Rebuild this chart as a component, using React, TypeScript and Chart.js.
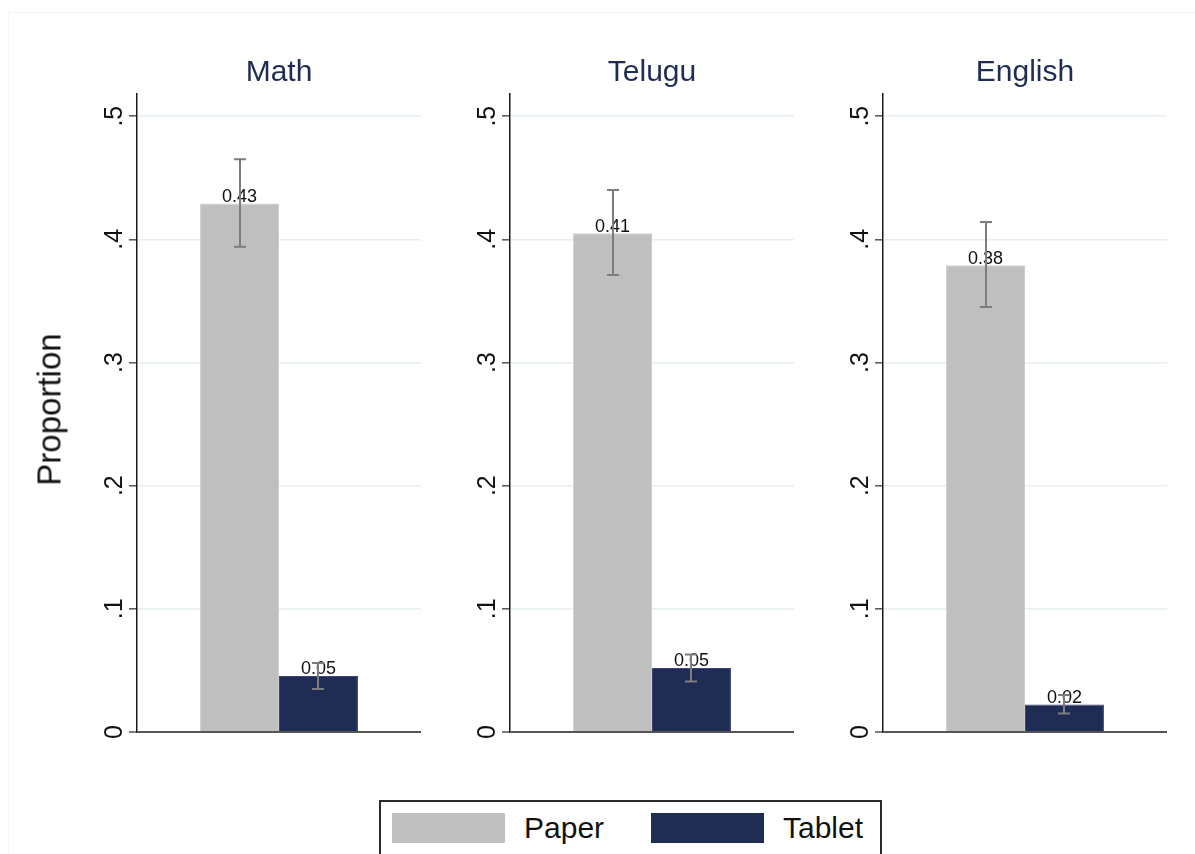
import React, { useEffect, useRef } from 'react';
import { Chart, registerables } from 'chart.js';

Chart.register(...registerables);

// Proportion by subject and test mode, with 95% confidence intervals
const subjects = ['Math', 'Telugu', 'English'];
const seriesNames = ['Paper', 'Tablet'];
const paperMeans = [0.429, 0.405, 0.379];
const tabletMeans = [0.0455, 0.052, 0.0224];
const paperLow = [0.394, 0.371, 0.345];
const paperHigh = [0.465, 0.44, 0.414];
const tabletLow = [0.035, 0.041, 0.015];
const tabletHigh = [0.056, 0.063, 0.03];
const yTicks = [0, 0.1, 0.2, 0.3, 0.4, 0.5];
const yTickLabels = ['0', '.1', '.2', '.3', '.4', '.5'];
const yAxisTitle = 'Proportion';

const PAPER_COLOR = '#bfbfbf';
const TABLET_COLOR = '#1f2c53';
const TITLE_COLOR = '#1f2c53';
const FONT = '"Liberation Sans", Arial, Helvetica, sans-serif';

// panel geometry (page pixels)
const PANEL_AXIS_X = [137, 510, 883];
const CANVAS_TOP = 40;
const CANVAS_W = 370;
const CANVAS_H = 720;
const AXIS_SPACE = 80;

function Panel({ index }: { index: number }) {
  const ref = useRef<HTMLCanvasElement | null>(null);

  useEffect(() => {
    const canvas = ref.current;
    if (!canvas) return;
    const lows = [paperLow[index], tabletLow[index]];
    const highs = [paperHigh[index], tabletHigh[index]];

    const decor = {
      id: 'panelDecor',
      afterDatasetsDraw(chart: any) {
        const ctx = chart.ctx as CanvasRenderingContext2D;
        const yScale = chart.scales.y;
        ctx.save();
        // value labels above bars
        ctx.font = `18px ${FONT}`;
        ctx.fillStyle = '#111111';
        ctx.textAlign = 'center';
        ctx.textBaseline = 'alphabetic';
        chart.data.datasets.forEach((ds: any, di: number) => {
          const meta = chart.getDatasetMeta(di);
          meta.data.forEach((bar: any, j: number) => {
            const v = ds.data[j] as number;
            ctx.fillText(v.toFixed(2), bar.x, bar.y - 1.5);
          });
        });
        // confidence interval whiskers
        ctx.strokeStyle = '#7d7d7d';
        ctx.lineWidth = 2;
        chart.data.datasets.forEach((_ds: any, di: number) => {
          const meta = chart.getDatasetMeta(di);
          meta.data.forEach((bar: any) => {
            const yLo = yScale.getPixelForValue(lows[di]);
            const yHi = yScale.getPixelForValue(highs[di]);
            const x = Math.round(bar.x);
            ctx.beginPath();
            ctx.moveTo(x, yLo);
            ctx.lineTo(x, yHi);
            ctx.moveTo(x - 6, yLo);
            ctx.lineTo(x + 6, yLo);
            ctx.moveTo(x - 6, yHi);
            ctx.lineTo(x + 6, yHi);
            ctx.stroke();
          });
        });
        ctx.restore();
      },
      afterDraw(chart: any) {
        const ctx = chart.ctx as CanvasRenderingContext2D;
        const { left, right } = chart.chartArea;
        const yScale = chart.scales.y;
        ctx.save();
        // rotated tick labels
        ctx.font = `25px ${FONT}`;
        ctx.fillStyle = '#111111';
        ctx.textAlign = 'center';
        ctx.textBaseline = 'alphabetic';
        yTicks.forEach((v, k) => {
          const y = yScale.getPixelForValue(v);
          ctx.save();
          ctx.translate(left - 15.5, y);
          ctx.rotate(-Math.PI / 2);
          ctx.fillText(yTickLabels[k], 0, 0);
          ctx.restore();
        });
        // panel title
        ctx.font = `30px ${FONT}`;
        ctx.fillStyle = TITLE_COLOR;
        ctx.textBaseline = 'middle';
        ctx.fillText(subjects[index], (left + right) / 2, 73 - CANVAS_TOP);
        ctx.restore();
      },
    };

    const chart = new Chart(canvas, {
      type: 'bar',
      data: {
        labels: [subjects[index]],
        datasets: [
          {
            label: seriesNames[0],
            data: [paperMeans[index]],
            backgroundColor: PAPER_COLOR,
            borderColor: '#cdcdcd',
            borderWidth: 1,
            borderSkipped: 'bottom',
          },
          {
            label: seriesNames[1],
            data: [tabletMeans[index]],
            backgroundColor: TABLET_COLOR,
            borderColor: '#3a4670',
            borderWidth: 1,
            borderSkipped: 'bottom',
          },
        ],
      },
      options: {
        responsive: false,
        animation: false,
        devicePixelRatio: 1,
        layout: { padding: { top: 54, bottom: 28, left: 0, right: 6 } },
        datasets: {
          bar: { categoryPercentage: 0.556, barPercentage: 1 },
        },
        plugins: {
          legend: { display: false },
          title: { display: false },
          tooltip: { enabled: false },
        },
        scales: {
          x: { display: false },
          y: {
            min: 0,
            max: 0.518,
            afterBuildTicks: (scale: any) => {
              scale.ticks = yTicks.map((v) => ({ value: v }));
            },
            afterFit: (scale: any) => {
              scale.width = AXIS_SPACE;
            },
            ticks: { display: false },
            border: { display: true, color: '#1a1a1a', width: 1.5 },
            grid: {
              drawTicks: true,
              tickLength: 8,
              color: (c: any) => (c.tick && c.tick.value === 0 ? '#555555' : '#e5eef2'),
              lineWidth: (c: any) => (c.tick && c.tick.value === 0 ? 2 : 1.6),
              tickColor: '#555555',
              tickWidth: 1.5,
            },
          },
        },
      },
      plugins: [decor],
    });

    return () => chart.destroy();
  }, [index]);

  return (
    <canvas
      ref={ref}
      width={CANVAS_W}
      height={CANVAS_H}
      style={{
        position: 'absolute',
        left: PANEL_AXIS_X[index] - AXIS_SPACE,
        top: CANVAS_TOP,
        width: CANVAS_W,
        height: CANVAS_H,
      }}
    />
  );
}

export default function App() {
  return (
    <div
      style={{
        position: 'fixed',
        left: 0,
        top: 0,
        width: 1195,
        height: 854,
        overflow: 'hidden',
        background: '#ffffff',
        fontFamily: FONT,
      }}
    >
      <div
        style={{
          position: 'absolute',
          left: 8,
          top: 12,
          width: 1300,
          height: 1000,
          border: '1px solid #f5f5f5',
        }}
      />
      {subjects.map((_, i) => (
        <Panel key={i} index={i} />
      ))}
      <div
        style={{
          position: 'absolute',
          left: 48.6 - 100,
          top: 409 - 16.5,
          width: 200,
          height: 33,
          lineHeight: '33px',
          fontSize: 33,
          textAlign: 'center',
          color: '#111111',
          transform: 'rotate(-90deg)',
          whiteSpace: 'nowrap',
        }}
      >
        {yAxisTitle}
      </div>
      <div
        style={{
          position: 'absolute',
          left: 379,
          top: 800,
          width: 503,
          height: 80,
          border: '2px solid #2b2b2b',
          boxSizing: 'border-box',
        }}
      >
        {seriesNames.map((name, k) => (
          <React.Fragment key={name}>
            <div
              style={{
                position: 'absolute',
                left: (k === 0 ? 392 : 651) - 381,
                top: 813 - 802,
                width: 113,
                height: 30,
                background: k === 0 ? PAPER_COLOR : TABLET_COLOR,
              }}
            />
            <div
              style={{
                position: 'absolute',
                left: (k === 0 ? 524 : 783) - 381,
                top: 828 - 802 - 17,
                height: 34,
                lineHeight: '34px',
                fontSize: 30,
                color: '#111111',
                whiteSpace: 'nowrap',
              }}
            >
              {name}
            </div>
          </React.Fragment>
        ))}
      </div>
    </div>
  );
}
